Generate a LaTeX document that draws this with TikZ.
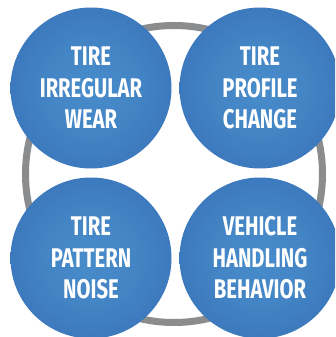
\documentclass[tikz,border=0pt]{standalone}
\usepackage{fontspec}
\newfontfamily\labfont{Fira Sans}[FakeStretch=0.75]
\definecolor{ringgray}{RGB}{138,140,142}
\definecolor{bluein}{RGB}{72,140,202}
\definecolor{blueout}{RGB}{38,86,165}
\pgfdeclareradialshading{bubble}{\pgfpoint{0bp}{0bp}}{%
  color(0bp)=(bluein); color(15bp)=(bluein!85!blueout); color(35bp)=(bluein!45!blueout); color(50bp)=(blueout); color(100bp)=(blueout)}
\tikzset{
  bubble/.style={circle, minimum size=161pt, inner sep=0pt, shading=bubble,
    text=white, align=center, font=\labfont\bfseries\fontsize{27}{31.5}\selectfont},
  ring/.style={draw=ringgray, line width=7pt}
}
\begin{document}
\begin{tikzpicture}[x=1pt,y=-1pt]
\useasboundingbox (0,0) rectangle (335,337);
\clip (0,0) rectangle (335,337);
\fill[white] (0,0) rectangle (335,337);
\node[ring, circle, minimum size=297pt, inner sep=0pt] (ringc) at (174,174) {};
\node[bubble] (a) at (91,88) {TIRE\\IRREGULAR\\WEAR};
\node[bubble] (b) at (260,88) {TIRE\\PROFILE\\CHANGE};
\node[bubble] (c) at (91,258) {TIRE\\PATTERN\\NOISE};
\node[bubble] (d) at (260,258) {VEHICLE\\HANDLING\\BEHAVIOR};
\end{tikzpicture}
\end{document}
